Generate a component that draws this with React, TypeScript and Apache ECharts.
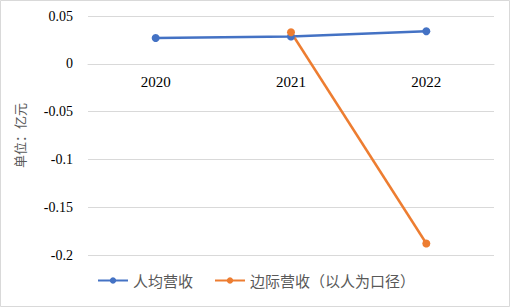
import React, { useEffect, useRef } from "react";
import * as echarts from "echarts";

const categories = ["2020", "2021", "2022"];
const perCapita = [0.027, 0.0285, 0.034];
const marginal: (number | null)[] = [null, 0.033, -0.188];
const seriesNames = ["人均营收", "边际营收（以人为口径）"];

const Y_MIN = -0.2;
const Y_MAX = 0.05;
const GRID_TOP = 16;
const GRID_BOTTOM = 52;
const H = 307;

export default function App() {
  const ref = useRef<HTMLDivElement>(null);
  useEffect(() => {
    const chart = echarts.init(ref.current!, null, { renderer: "svg" });
    const gridH = H - GRID_TOP - GRID_BOTTOM;
    const zeroOffset = -gridH * (0 - Y_MIN) / (Y_MAX - Y_MIN);
    chart.setOption({
      animation: false,
      backgroundColor: "#ffffff",
      graphic: [
        {
          type: "rect",
          shape: { x: 0.5, y: 0.5, width: 509, height: 306 },
          style: { fill: "none", stroke: "#d9d9d9", lineWidth: 1 },
          silent: true,
        },
      ],
      grid: { left: 88, right: 16, top: GRID_TOP, bottom: GRID_BOTTOM },
      legend: {
        bottom: 14,
        left: 92,
        itemWidth: 30,
        itemHeight: 8,
        itemGap: 21,
        textStyle: { color: "#595959", fontSize: 15, fontFamily: "Noto Sans CJK SC" },
        data: seriesNames,
      },
      xAxis: {
        type: "category",
        data: categories,
        boundaryGap: true,
        offset: zeroOffset,
        axisLine: { show: true, onZero: false, lineStyle: { color: "#d9d9d9" } },
        axisTick: { show: false },
        axisLabel: {
          color: "#000000",
          fontSize: 15,
          fontFamily: "'Liberation Serif', 'Times New Roman', serif",
          margin: 11,
        },
      },
      yAxis: {
        type: "value",
        min: Y_MIN,
        max: Y_MAX,
        interval: 0.05,
        name: "单位：亿元",
        nameLocation: "middle",
        nameRotate: 90,
        nameGap: 62,
        nameTextStyle: { color: "#595959", fontSize: 13, fontFamily: "Noto Sans CJK SC" },
        axisLine: { show: false },
        axisTick: { show: false },
        splitLine: { lineStyle: { color: "#d9d9d9" } },
        axisLabel: {
          color: "#000000",
          fontSize: 14,
          fontFamily: "'Liberation Serif', 'Times New Roman', serif",
          margin: 15,
          formatter: (v: number) => String(Math.round(v * 100) / 100),
        },
      },
      series: [
        {
          name: seriesNames[0],
          type: "line",
          data: perCapita,
          symbol: "circle",
          symbolSize: 8,
          itemStyle: { color: "#4472C4" },
          lineStyle: { color: "#4472C4", width: 2.5 },
        },
        {
          name: seriesNames[1],
          type: "line",
          data: marginal,
          symbol: "circle",
          symbolSize: 8,
          itemStyle: { color: "#ED7D31" },
          lineStyle: { color: "#ED7D31", width: 2.5 },
        },
      ],
    });
    return () => chart.dispose();
  }, []);
  return (
    <div
      ref={ref}
      style={{ position: "fixed", left: 0, top: 0, width: 510, height: 307 }}
    />
  );
}
